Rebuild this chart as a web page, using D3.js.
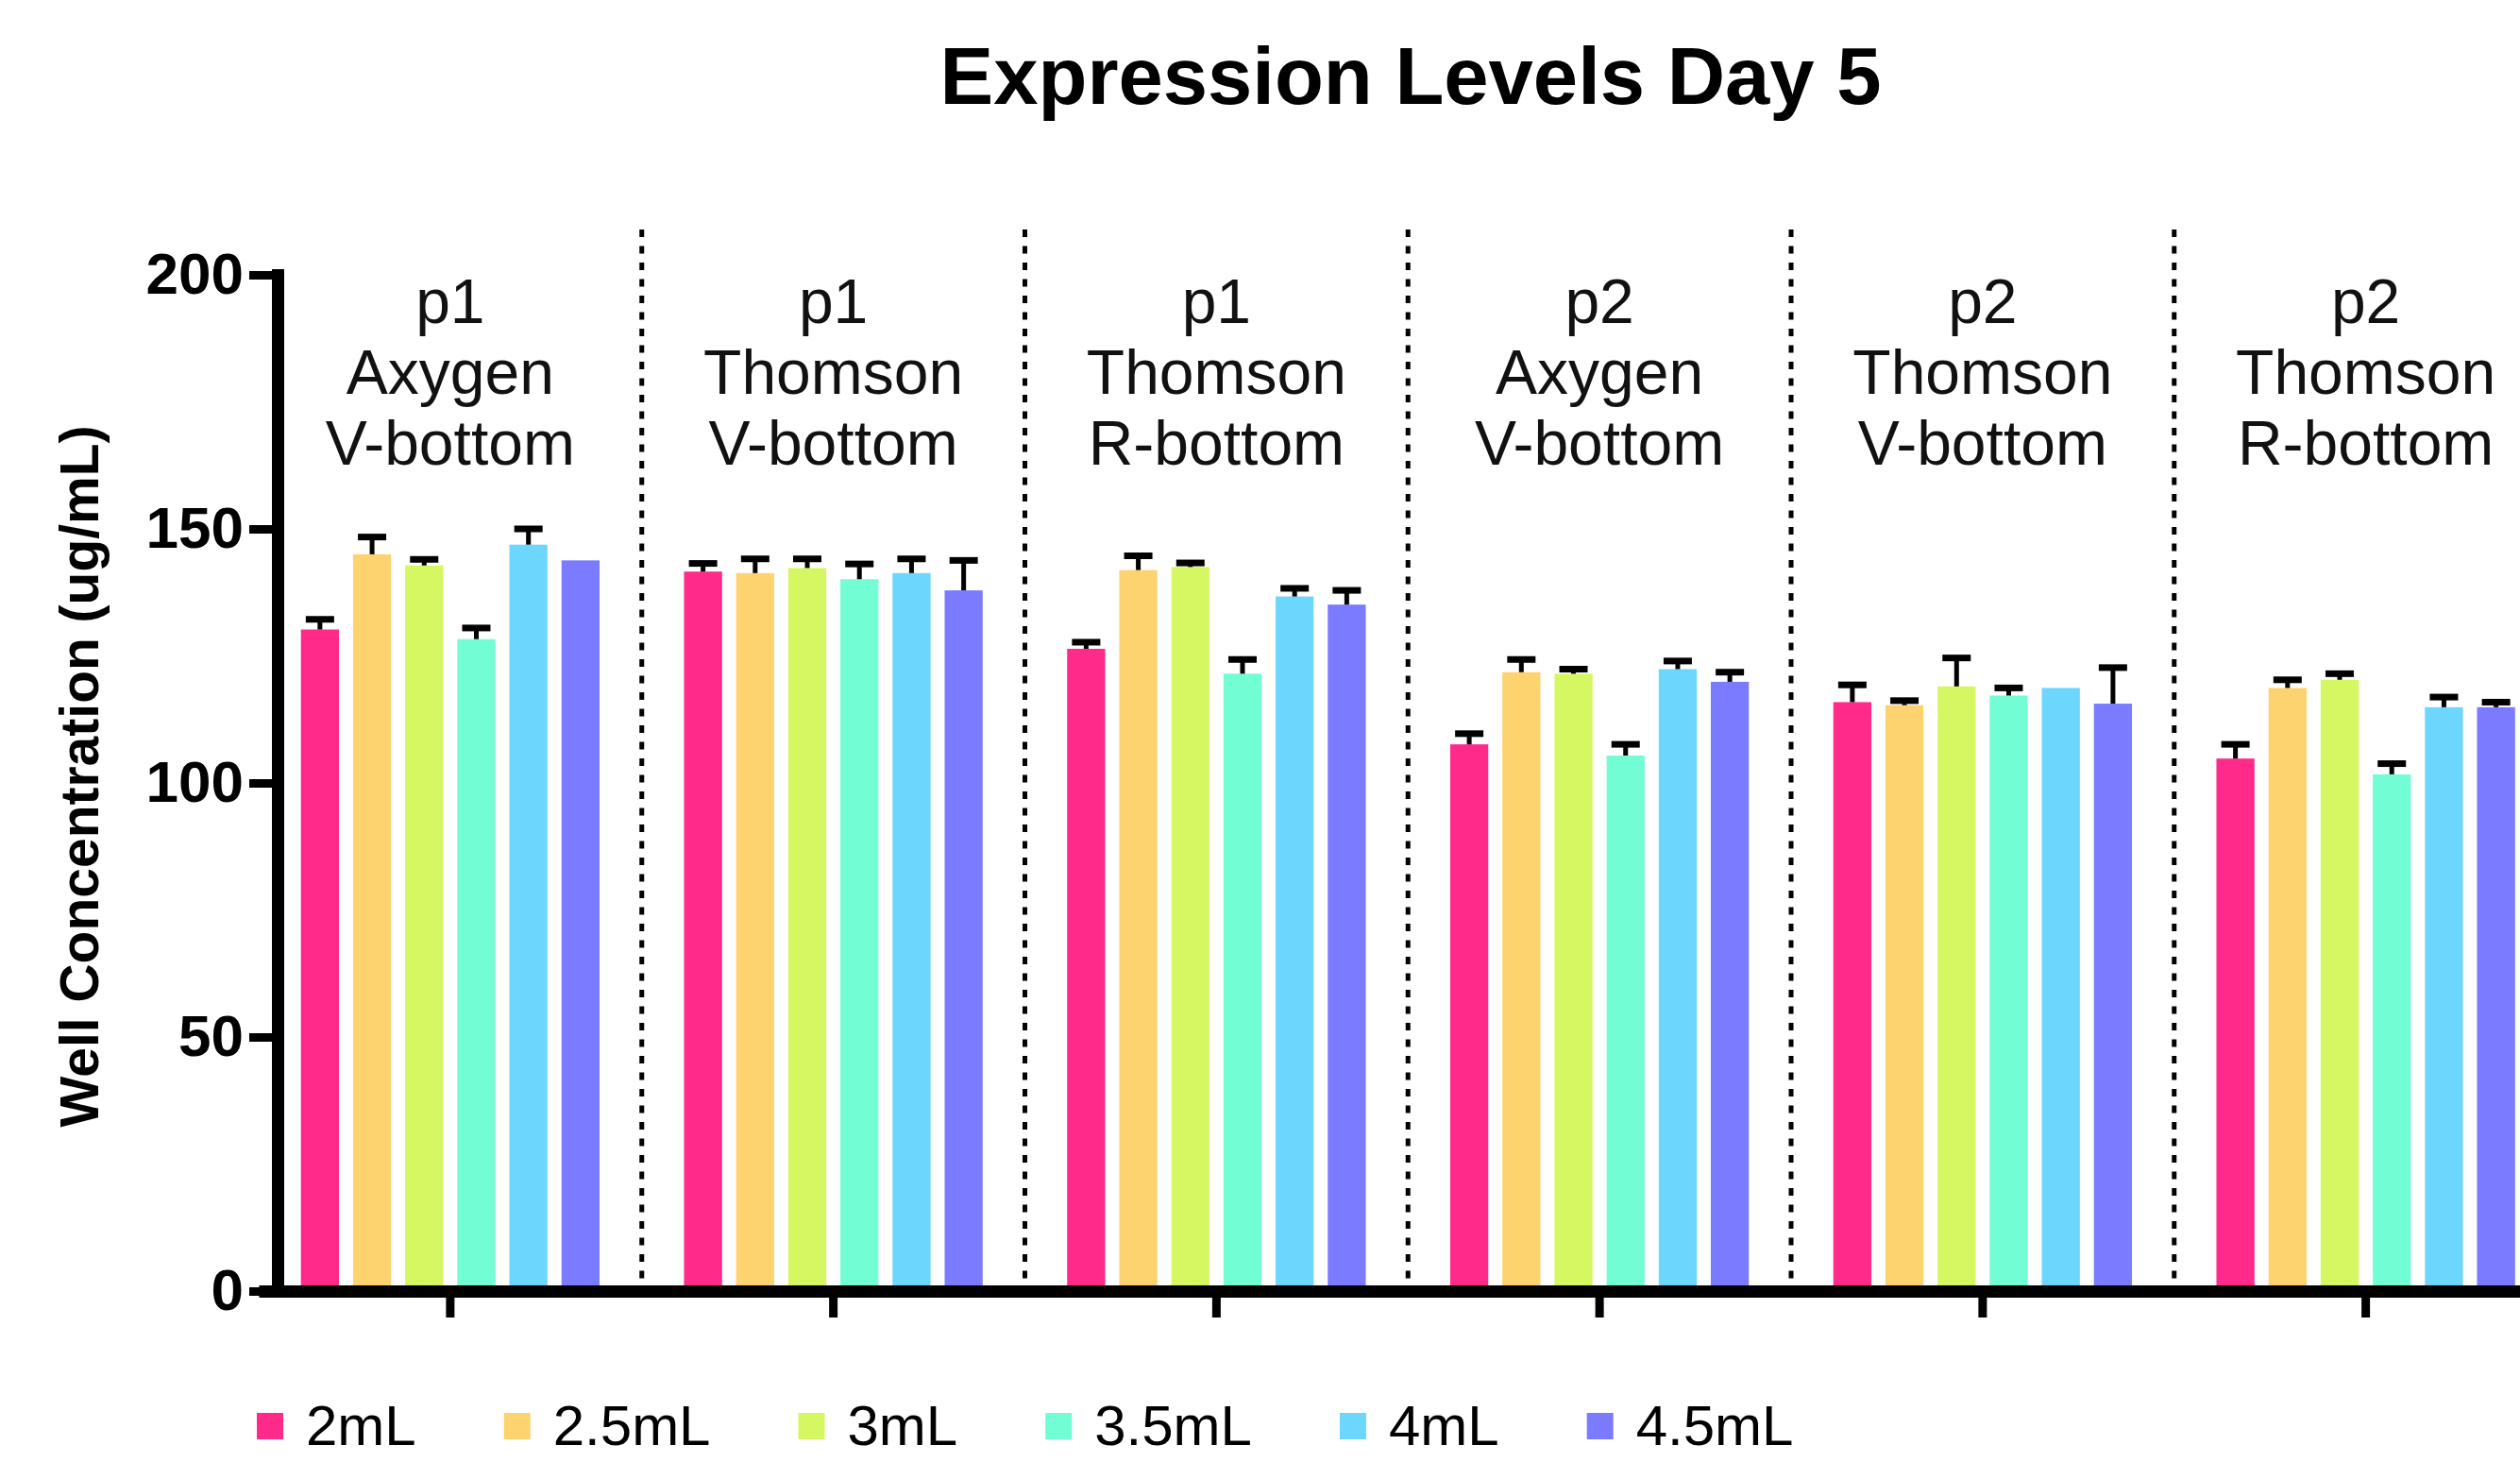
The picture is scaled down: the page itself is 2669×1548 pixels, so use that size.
<!DOCTYPE html>
<html>
<head>
<meta charset="utf-8">
<script src="https://cdn.jsdelivr.net/npm/d3@7"></script>
<style>
  body { margin: 0; background: #fff; }
  svg { display: block; font-family: "Liberation Sans", Arial, Helvetica, sans-serif; }
</style>
</head>
<body>
<svg id="chart"></svg>
<script>
// group labels (3 lines each)
var passage = ["p1", "p1", "p1", "p2", "p2", "p2"];
var brand = ["Axygen", "Thomson", "Thomson", "Axygen", "Thomson", "Thomson"];
var plate = ["V-bottom", "V-bottom", "R-bottom", "V-bottom", "V-bottom", "R-bottom"];

var series = ["2mL", "2.5mL", "3mL", "3.5mL", "4mL", "4.5mL"];
var colors = ["#ff2a8a", "#fdd36f", "#d5f862", "#72fdd4", "#6dd6fd", "#7b7bff"];

// mean well concentration per series, one value per group
var mean2 = [130.2, 141.6, 126.4, 107.6, 115.9, 104.8];
var mean25 = [145.0, 141.3, 141.9, 121.8, 115.3, 118.7];
var mean3 = [142.8, 142.3, 142.5, 121.5, 119.0, 120.3];
var mean35 = [128.3, 140.1, 121.5, 105.4, 117.2, 101.7];
var mean4 = [146.9, 141.3, 136.7, 122.4, 118.7, 114.9];
var mean45 = [143.8, 137.9, 135.1, 119.9, 115.6, 114.9];

// upper error bars
var err2 = [2.0, 1.6, 1.3, 2.1, 3.4, 2.8];
var err25 = [3.4, 2.8, 2.8, 2.5, 0.9, 1.6];
var err3 = [1.2, 1.8, 0.8, 0.9, 5.6, 1.2];
var err35 = [2.2, 3.0, 2.8, 2.2, 1.5, 2.1];
var err4 = [3.1, 2.8, 1.6, 1.6, 0, 2.0];
var err45 = [0, 5.9, 2.8, 1.9, 7.1, 1.0];

var yTicks = [0, 50, 100, 150, 200];

var means = [mean2, mean25, mean3, mean35, mean4, mean45];
var errs = [err2, err25, err3, err35, err4, err45];
var groups = passage.map(function (p, i) { return i; });

var width = 2669, height = 1548;
var svg = d3.select("#chart").attr("width", width).attr("height", height);

var x0 = d3.scaleBand().domain(groups).range([274, 2708.5]);
var x1 = d3.scaleBand().domain(series).range([0, x0.bandwidth()])
  .paddingInner(0.27).paddingOuter(0.81);
var y = d3.scaleLinear().domain([0, 200]).range([1367, 291]);
var color = d3.scaleOrdinal(series, colors);

// title
svg.append("text")
  .attr("x", 1494).attr("y", 110)
  .attr("text-anchor", "middle")
  .attr("font-size", 85).attr("font-weight", "bold")
  .text("Expression Levels Day 5");

// group separators
svg.append("g").selectAll("line")
  .data(groups.slice(1))
  .enter().append("line")
  .attr("x1", function (d) { return x0(d); })
  .attr("x2", function (d) { return x0(d); })
  .attr("y1", 243).attr("y2", 1360)
  .attr("stroke", "#000").attr("stroke-width", 5)
  .attr("stroke-dasharray", "8,9.5");

// group labels
var lab = svg.append("g").selectAll("text")
  .data(groups)
  .enter().append("text")
  .attr("text-anchor", "middle")
  .attr("font-size", 66)
  .attr("fill", "#111");
[passage, brand, plate].forEach(function (arr, k) {
  lab.append("tspan")
    .attr("x", function (d) { return x0(d) + x0.bandwidth() / 2; })
    .attr("y", 342 + k * 75)
    .text(function (d) { return arr[d]; });
});

// bars
var rows = [];
groups.forEach(function (g) {
  series.forEach(function (s, i) {
    rows.push({ g: g, s: s, v: means[i][g], e: errs[i][g] });
  });
});

var bar = svg.append("g").selectAll("g")
  .data(rows)
  .enter().append("g");

bar.append("rect")
  .attr("x", function (d) { return x0(d.g) + x1(d.s); })
  .attr("y", function (d) { return y(d.v); })
  .attr("width", x1.bandwidth())
  .attr("height", function (d) { return y(0) - y(d.v); })
  .attr("fill", function (d) { return color(d.s); });

var eb = bar.filter(function (d) { return d.e > 0; });
eb.append("line")
  .attr("x1", function (d) { return x0(d.g) + x1(d.s) + x1.bandwidth() / 2; })
  .attr("x2", function (d) { return x0(d.g) + x1(d.s) + x1.bandwidth() / 2; })
  .attr("y1", function (d) { return y(d.v); })
  .attr("y2", function (d) { return y(d.v + d.e); })
  .attr("stroke", "#000").attr("stroke-width", 5);
eb.append("line")
  .attr("x1", function (d) { return x0(d.g) + x1(d.s) + x1.bandwidth() / 2 - 15; })
  .attr("x2", function (d) { return x0(d.g) + x1(d.s) + x1.bandwidth() / 2 + 15; })
  .attr("y1", function (d) { return y(d.v + d.e); })
  .attr("y2", function (d) { return y(d.v + d.e); })
  .attr("stroke", "#000").attr("stroke-width", 7);

// x axis
var xAxis = svg.append("g")
  .attr("transform", "translate(0," + y(0) + ")")
  .call(d3.axisBottom(x0).tickSize(28).tickSizeOuter(0).tickFormat(""));
xAxis.select(".domain").attr("stroke-width", 13);
xAxis.selectAll(".tick line").attr("stroke-width", 9);

// y axis
var yAxis = svg.append("g")
  .attr("transform", "translate(294,0)")
  .call(d3.axisLeft(y).tickValues(yTicks).tickSize(30).tickSizeOuter(0).tickPadding(6));
yAxis.select(".domain").attr("stroke-width", 13).attr("stroke-linecap", "square");
yAxis.selectAll(".tick line").attr("stroke-width", 9);
yAxis.selectAll(".tick text")
  .attr("font-size", 62).attr("font-weight", "bold")
  .attr("font-family", "'Liberation Sans', Arial, sans-serif")
  .attr("fill", "#000");

svg.append("text")
  .attr("transform", "translate(84,822) rotate(-90)")
  .attr("dy", "0.35em")
  .attr("text-anchor", "middle")
  .attr("font-size", 57).attr("font-weight", "bold")
  .text("Well Concentration (ug/mL)");

// legend
var legend = svg.append("g");
var lx = 324;
series.forEach(function (s) {
  var t = legend.append("text")
    .attr("x", lx).attr("y", 1530)
    .attr("font-size", 60)
    .text(s);
  legend.append("rect")
    .attr("x", lx - 52).attr("y", 1496)
    .attr("width", 28).attr("height", 28)
    .attr("fill", color(s));
  lx += t.node().getComputedTextLength() + 145;
});
</script>
</body>
</html>
